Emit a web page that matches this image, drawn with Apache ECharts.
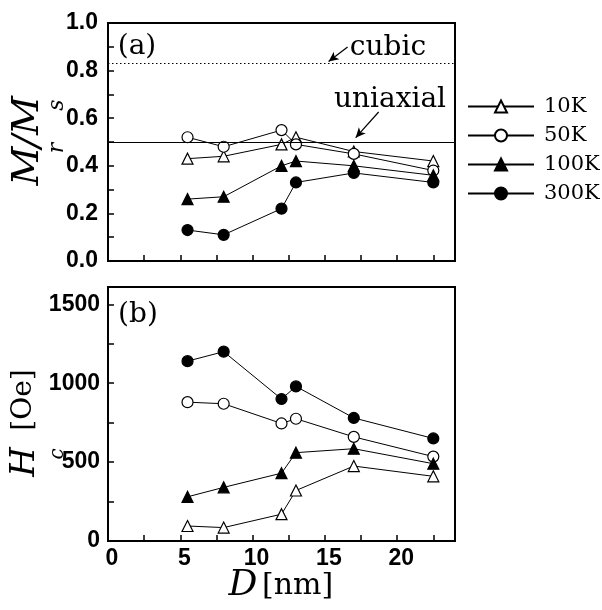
<!DOCTYPE html>
<html><head><meta charset="utf-8">
<script src="https://cdn.jsdelivr.net/npm/echarts@6/dist/echarts.min.js"></script>
<style>html,body{margin:0;padding:0;background:#fff}#c{width:602px;height:610px}</style>
</head><body><div id="c"></div>
<script>
// ---- data ----
const diameters = [5.5, 8.0, 12.0, 13.0, 17.0, 22.5];          // D [nm]
const tempNames = ['10K', '50K', '100K', '300K'];
// (a) Mr/Ms
const ratio10K  = [0.43, 0.44, 0.49, 0.52, 0.46, 0.42];
const ratio50K  = [0.52, 0.48, 0.55, 0.49, 0.45, 0.38];
const ratio100K = [0.26, 0.27, 0.40, 0.42, 0.40, 0.36];
const ratio300K = [0.13, 0.11, 0.22, 0.33, 0.37, 0.33];
// (b) Hc [Oe]
const hc10K  = [95, 85, 170, 320, 475, 410];
const hc50K  = [880, 870, 745, 775, 660, 535];
const hc100K = [280, 340, 430, 560, 585, 490];
const hc300K = [1140, 1200, 900, 980, 780, 650];
// reference levels
const cubicLevel = 0.832;
const uniaxialLevel = 0.5;
// tick labels
const xTickLabels = [0, 5, 10, 15, 20];
const ratioTickLabels = [0.0, 0.2, 0.4, 0.6, 0.8, 1.0];
const hcTickLabels = [0, 500, 1000, 1500];

const ratioSets = [ratio10K, ratio50K, ratio100K, ratio300K];
const hcSets = [hc10K, hc50K, hc100K, hc300K];
const markerStyles = [
  {symbol: 'triangle', fill: '#fff'},
  {symbol: 'circle', fill: '#fff'},
  {symbol: 'triangle', fill: '#000'},
  {symbol: 'circle', fill: '#000'}
];

const chart = echarts.init(document.getElementById('c'), null, {renderer: 'canvas'});
const tickFont = {fontFamily: '"Liberation Sans", Arial, sans-serif', fontWeight: 'bold', fontSize: 23, color: '#000'};
const axisLine = {show: true, onZero: false, lineStyle: {color: '#000', width: 2}};
const axisTick = {show: true, inside: true, length: 6, lineStyle: {color: '#000', width: 1.5}};

function makeSeries(sets, gridIdx) {
  return sets.map((vals, i) => ({
    type: 'line',
    name: tempNames[i],
    xAxisIndex: gridIdx, yAxisIndex: gridIdx,
    data: diameters.map((d, j) => [d, vals[j]]),
    symbol: markerStyles[i].symbol,
    symbolSize: 11,
    showSymbol: true,
    lineStyle: {color: '#000', width: 1},
    itemStyle: {color: markerStyles[i].fill, borderColor: '#000', borderWidth: 1.2},
    z: 3 + i,
    animation: false
  }));
}

const series = makeSeries(ratioSets, 0).concat(makeSeries(hcSets, 1));
// reference lines and arrows in panel (a)
series.push({
  type: 'line', xAxisIndex: 0, yAxisIndex: 0, data: [], silent: true, animation: false,
  markLine: {
    silent: true, animation: false, symbol: 'none', label: {show: false},
    data: [
      {yAxis: cubicLevel, lineStyle: {type: [1.5, 2.5], color: '#000', width: 1}},
      {yAxis: uniaxialLevel, lineStyle: {type: 'solid', color: '#000', width: 1.2}},
      [{coord: [16.57, 0.899], symbol: 'none'}, {coord: [15.26, 0.838], symbol: 'arrow', symbolSize: [7, 10]}],
      [{coord: [18.72, 0.626], symbol: 'none'}, {coord: [17.13, 0.518], symbol: 'arrow', symbolSize: [7, 10]}]
    ],
    lineStyle: {color: '#000', width: 1.2, type: 'solid'}
  }
});

function txt(x, y, text, font, opts) {
  return Object.assign({type: 'text', x: x, y: y, silent: true,
    style: {text: text, font: font, fill: '#000', align: 'center', verticalAlign: 'middle'}}, opts || {});
}
const R = Math.PI / 2;
const serif = '"DejaVu Serif", serif';

chart.setOption({
  animation: false,
  backgroundColor: '#fff',
  grid: [
    {left: 108, top: 23, width: 347, height: 238, show: true, borderColor: '#000', borderWidth: 2, backgroundColor: 'transparent'},
    {left: 108, top: 287, width: 347, height: 254, show: true, borderColor: '#000', borderWidth: 2, backgroundColor: 'transparent'}
  ],
  xAxis: [
    {gridIndex: 0, type: 'value', min: 0, max: 24, interval: 2.5, axisLine: axisLine, axisTick: axisTick,
      axisLabel: {show: false}, splitLine: {show: false}},
    {gridIndex: 1, type: 'value', min: 0, max: 24, interval: 2.5, axisLine: axisLine, axisTick: axisTick,
      axisLabel: Object.assign({margin: 6, padding: [0, 0, 0, 8], formatter: v => xTickLabels.includes(v) ? String(v) : ''}, tickFont),
      splitLine: {show: false}}
  ],
  yAxis: [
    {gridIndex: 0, type: 'value', min: 0, max: 1, interval: 0.1, axisLine: axisLine, axisTick: axisTick,
      axisLabel: Object.assign({margin: 10, formatter: v => {
        const m = ratioTickLabels.find(t => Math.abs(t - v) < 1e-6);
        return m === undefined ? '' : m.toFixed(1);
      }}, tickFont), splitLine: {show: false}},
    {gridIndex: 1, type: 'value', min: 0, max: 1610, interval: 250, axisLine: axisLine, axisTick: axisTick,
      axisLabel: Object.assign({margin: 8, formatter: v => hcTickLabels.includes(v) ? String(v) : ''}, tickFont),
      splitLine: {show: false}}
  ],
  legend: {
    data: tempNames, orient: 'vertical', left: 467, top: 96, padding: 0,
    itemWidth: 66, itemHeight: 15, itemGap: 8,
    textStyle: {fontFamily: serif, fontSize: 21, color: '#000', padding: [0, 0, 0, 5]},
    inactiveColor: '#000'
  },
  graphic: [
    txt(137, 47, '(a)', '28px ' + serif),
    txt(138, 315, '(b)', '28px ' + serif),
    txt(388, 48, 'cubic', '28px ' + serif),
    txt(390, 100, 'uniaxial', '28px ' + serif),
    txt(28, 166, 'M', 'italic 38px ' + serif, {rotation: R}),
    txt(57, 148, 'r', 'italic 22px ' + serif, {rotation: R}),
    txt(28, 122, '/M', 'italic 38px ' + serif, {rotation: R}),
    txt(57, 105, 's', 'italic 22px ' + serif, {rotation: R}),
    txt(25, 462, 'H', 'italic 34px ' + serif, {rotation: R}),
    txt(58, 454, 'c', 'italic 20px ' + serif, {rotation: R}),
    txt(24, 400, '[Oe]', '28px ' + serif, {rotation: R}),
    txt(243, 586, 'D', 'italic 36px ' + serif),
    {type: 'text', x: 262, y: 586, silent: true, style: {text: '[nm]', font: '30px ' + serif, fill: '#000', align: 'left', verticalAlign: 'middle'}}
  ],
  series: series
});
</script>
</body></html>
